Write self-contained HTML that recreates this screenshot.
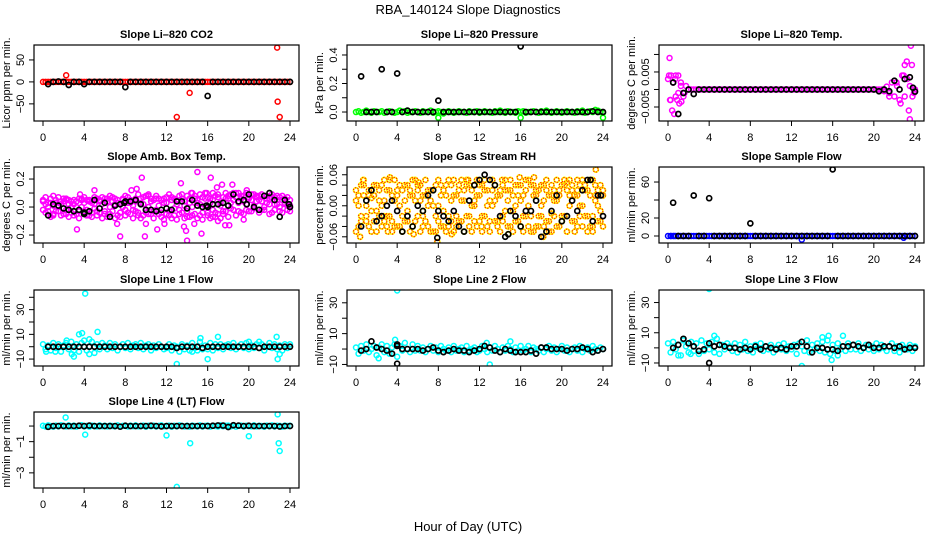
<!DOCTYPE html>
<html><head><meta charset="utf-8"><style>
html,body{margin:0;padding:0;background:#fff;}
svg{display:block;font-family:"Liberation Sans",sans-serif;}
</style></head><body>
<svg id="chart" width="936" height="540" viewBox="0 0 936 540" xmlns="http://www.w3.org/2000/svg">
<text x="468" y="14" text-anchor="middle" font-size="13">RBA_140124  Slope Diagnostics</text>
<text x="468" y="531" text-anchor="middle" font-size="13">Hour of Day (UTC)</text>
</svg>
<script>
// ---------- data ----------
const xTicks = [0,4,8,12,16,20,24];

const co2Col = [0,0,0,0,0,0,0,0,0,0,0,0, 0,0,0,0,0,0,0,0,0,0,0,0, 0,0,0,0,0,0,0,0,0,0,0,0, 0,0,0,0,0,0,0,0,0,0,0,0, 0,0,0,0,0,0,0,0,0,0,0,0, 0,0,0,0,0,0,0,0,0,0,0,0, 0,0,0,0,0,0,0,0,0,0,0,0, 0,0,0,0,0,0,0,0,0,0,0,0, 0];
const co2ColExtra = [[2.25,15],[13,-80],[14.25,-25],[22.75,78],[22.8,-45],[23,-80]];
const co2Blk = [-5,0,1,0,-7,0,0,-5, 0,0,0,0,0,0,0,-12, 0,0,0,0,0,0,0,0, 0,0,0,0,0,0,0,-32, 0,0,0,0,0,0,0,0, 0,0,0,0,0,0,0,0];
const co2BlkExtra = [];

const presCol = [0,0.005,-0.005,0,0.01,0,-0.005,0.005,0,0,0.005,-0.005, 0,0.005,0,-0.005,0,0.01,0,0.005,-0.005,0,0,0.005, 0,-0.005,0.005,0,0,0.01,-0.005,0,0.005,0,-0.01,0, 0.005,0,-0.005,0,0.005,0,0,-0.005,0.005,0,0,0.005, -0.005,0,0.005,0,0,-0.005,0.005,0,0.01,0,-0.005,0.005, 0,0,-0.005,0.005,0,0.005,-0.005,0,0,0.005,0,-0.005, 0.005,0,0.01,0,-0.005,0,0.005,0,-0.005,0,0.005,0, 0,-0.005,0.005,0,0.01,-0.005,0,0.005,0,0.015,0.01,0, -0.005];
const presColExtra = [[8,-0.04],[16,-0.04],[24,-0.04]];
const presBlk = [0.25,0,0,0,0.3,0,0,0.27, 0,0.01,0,0,0,0,0,0.08, 0,0,0,0,0,0,0,0, 0,0,0,0,0,0,0,0.46, 0,0,0,0,0,0,0,0, 0,0,0,0,0,0.005,0,0];
const presBlkExtra = [];

const tempCol = [0.003,-0.003,0.002,0.004,-0.001,0.002,-0.002,0.001,0.0, 0,0,0, 0,0,0,0,0,0,0,0,0,0,0,0, 0,0,0,0,0,0,0,0,0,0,0,0, 0,0,0,0,0,0,0,0,0,0,0,0, 0,0,0,0,0,0,0,0,0,0,0,0, 0,0,0,0,0,0,0,0,0,0,0,0, 0,0,0,0,0,0,0,0,0,0,0,0, -0.0005,0.0008,-0.001,0.002,-0.002,0.001,-0.003,0.004,-0.002,0.003,0.001,-0.002,0.0];
const tempColExtra = [[0.15,0.009],[0.4,-0.006],[0.6,-0.007],[0.3,0.004],[0.2,-0.003],[0.5,0.002],[0.75,-0.002],[1,0.004],[1.25,0.001],[0.1,0.004],[0.9,-0.003],[1.6,-0.001],[1.3,-0.0035],[1.1,-0.004],[0.7,0.003],[23.6,0.0125],[23.2,0.008],[23.5,-0.0085],[23.4,-0.006],[23.7,0.007],[23.0,0.007],[22.6,-0.004],[22.9,0.004],[21.5,-0.002],[22.2,0.002],[23.9,-0.001]];
const tempBlk = [0.002,-0.007,-0.001,0,-0.0013,0,0,0, 0,0,0,0,0,0,0,0, 0,0,0,0,0,0,0,0, 0,0,0,0,0,0,0,0, 0,0,0,0,0,0,0,0, -0.0005,0,-0.0005,0.0025,0,0.003,0.0035,-0.0006];
const tempBlkExtra = [[23.8,0.0005]];

const ambColA = [0.05,0.02,-0.03,0.06,-0.05,0.03,0.0,-0.06,0.04,-0.02,0.05,-0.04, 0.02,-0.05,0.06,0.0,-0.03,0.05,-0.06,0.03,-0.01,0.06,-0.04,0.02, -0.05,0.04,0.0,-0.03,0.06,-0.06,0.02,0.05,-0.02,0.07,-0.05,0.01, 0.06,-0.04,0.03,-0.06,0.08,0.0,-0.05,0.05,-0.02,0.06,-0.07,0.03, 0.07,-0.03,0.05,-0.06,0.02,0.08,-0.04,0.04,-0.07,0.06,0.0,-0.05, 0.05,-0.06,0.07,0.01,-0.04,0.06,-0.02,0.08,-0.05,0.03,0.07,-0.03, 0.06,0.09,-0.02,0.07,0.03,-0.04,0.08,0.02,0.06,-0.03,0.09,0.04, 0.05,-0.02,0.08,0.03,0.06,-0.04,0.07,0.02,-0.03,0.05,0.06,-0.02, 0.01];
const ambColB = [-0.02,0.07,0.03,-0.07,0.01,-0.03,0.07,0.02,-0.05,0.06,-0.07,0.04, -0.06,0.04,-0.08,0.05,0.07,-0.06,0.04,-0.07,0.07,-0.03,0.05,-0.08, 0.06,-0.07,0.08,0.04,-0.08,0.03,-0.07,0.0,0.08,-0.04,0.03,-0.08, -0.03,0.09,-0.08,0.07,-0.04,0.09,0.06,-0.08,0.08,-0.05,0.05,-0.09, -0.05,0.09,-0.08,0.06,-0.09,-0.02,0.09,-0.08,0.08,-0.07,0.1,0.06, -0.08,0.09,-0.09,0.1,0.07,-0.08,0.1,-0.07,0.09,-0.08,-0.03,0.1, -0.07,0.03,0.1,-0.06,0.1,0.08,-0.05,0.1,-0.03,0.09,0.01,0.08, -0.04,0.09,0.0,0.08,-0.05,0.09,0.02,0.08,0.07,-0.04,0.02,0.07, -0.03];
const ambColC = [0.04,-0.04,0.0,0.03,-0.06,0.05,-0.03,0.04,0.06,-0.05,0.02,0.0, 0.05,0.0,-0.03,0.06,0.03,-0.02,0.05,-0.04,0.02,-0.06,0.04,0.07, -0.03,0.06,-0.05,0.07,0.02,0.05,-0.04,0.06,-0.06,0.03,0.05,-0.02, 0.04,-0.06,0.06,0.02,-0.02,-0.05,0.04,-0.03,0.06,0.01,-0.04,0.06, 0.03,-0.06,0.07,-0.01,0.05,-0.05,0.06,0.01,-0.03,0.03,-0.06,0.08, 0.03,0.02,-0.04,0.06,-0.06,0.03,0.05,-0.04,0.07,0.01,-0.05,0.06, 0.08,-0.01,0.05,0.1,-0.03,0.06,0.04,-0.02,0.07,0.05,-0.01,0.07, 0.08,0.04,-0.02,0.06,0.02,0.07,-0.02,0.05,0.0,0.08,0.03,0.01, 0.05];
const ambColExtra = [[1.0,0.08],[2.3,0.05],[3.3,-0.16],[3.6,0.09],[5.0,0.12],[7.5,-0.21],[7.2,-0.12],[8.6,0.12],[9.1,0.13],[9.6,0.21],[10.2,0.08],[9.9,-0.21],[10.0,-0.12],[11.1,-0.16],[11.8,-0.12],[13.4,0.17],[13.7,-0.14],[14.4,0.1],[14.0,-0.24],[13.9,-0.17],[14.7,-0.12],[15.0,0.25],[15.4,-0.19],[15.9,0.1],[16.3,0.21],[16.5,-0.07],[16.9,0.14],[17.4,0.16],[17.7,-0.13],[18.1,-0.13],[18.4,0.16],[19.8,0.12],[19.5,-0.09],[17.0,-0.1]];
const ambBlk = [-0.06,0.02,0.01,-0.01,-0.02,-0.03,-0.02,-0.05, -0.03,0.05,-0.01,0.03,-0.07,0.01,0.02,0.04, 0.04,0.05,0.02,-0.02,-0.02,-0.03,-0.02,-0.01, -0.02,0.04,0.04,-0.01,0.05,0.01,0.0,0.0, 0.02,0.02,0.03,0.01,0.09,0.04,0.05,0.09, 0.0,-0.02,0.08,0.1,0.05,-0.07,0.05,0.0];
const ambBlkExtra = [[4.0,-0.04],[7.9,0.03],[15.9,0.01],[19.8,0.02],[23.9,0.02]];

const rhColA = [0.01,-0.04,0.04,0.02,-0.03,0.03,-0.01,0.02,-0.05,0.01,0.04,-0.03, 0.03,-0.02,0.02,0.05,-0.04,0.0,0.03,-0.03,0.04,-0.05,0.02,0.01, -0.02,0.04,-0.04,0.02,0.03,-0.05,0.0,0.04,-0.03,0.02,-0.01,0.04, 0.05,-0.03,0.02,-0.04,0.03,0.01,-0.05,0.04,-0.02,0.03,0.0,-0.04, 0.04,-0.02,0.05,-0.04,0.01,0.03,-0.03,0.02,-0.05,0.04,-0.01,0.03, -0.04,0.02,0.04,-0.03,0.01,-0.05,0.03,0.05,-0.02,0.02,-0.04,0.03, 0.0,0.04,-0.03,0.02,-0.05,0.03,0.01,-0.04,0.04,-0.02,0.03,0.05, -0.03,0.02,-0.04,0.04,0.0,-0.02,0.03,-0.04,0.05,0.02,-0.03,0.04, 0.02];
const rhColB = [-0.05,0.02,-0.02,0.04,0.0,-0.04,0.03,-0.03,0.04,-0.02,0.0,0.05, -0.04,0.03,-0.05,0.01,0.03,-0.04,-0.02,0.04,-0.03,0.03,-0.04,0.05, 0.03,-0.05,0.02,-0.03,0.0,0.03,-0.05,-0.02,0.05,-0.04,0.03,-0.05, -0.02,0.04,-0.05,0.02,-0.03,0.05,0.03,-0.02,0.04,-0.05,0.04,0.02, -0.03,0.04,-0.02,0.03,-0.05,0.0,0.04,-0.03,0.03,-0.02,0.05,-0.04, 0.03,-0.05,0.0,0.04,-0.04,0.02,-0.02,-0.04,0.04,-0.05,0.03,-0.02, 0.04,-0.04,0.05,-0.05,0.02,-0.02,0.05,0.02,-0.03,0.04,-0.05,0.0, 0.04,-0.05,0.03,-0.02,0.05,0.04,-0.05,0.02,-0.02,0.04,0.0,-0.03, -0.04];
const rhColC = [0.03,0.0,-0.03,0.05,-0.02,0.02,-0.05,0.04,-0.01,0.03,-0.04,0.01, -0.02,0.05,-0.03,-0.04,0.02,0.04,-0.05,0.01,-0.01,0.02,0.05,-0.03, 0.04,0.01,-0.02,0.05,-0.04,0.01,0.03,-0.05,0.0,0.04,-0.04,0.02, -0.04,0.01,0.05,-0.02,0.04,-0.03,0.01,0.05,-0.04,0.0,-0.03,0.05, 0.02,-0.05,0.03,0.0,-0.03,0.05,0.01,-0.04,0.02,-0.03,0.03,0.01, 0.05,-0.01,-0.03,0.02,0.04,-0.02,0.05,0.0,-0.05,0.04,0.02,-0.04, -0.02,0.01,0.03,-0.03,0.04,0.01,-0.04,0.03,-0.02,0.05,-0.05,0.02, 0.03,-0.03,0.05,0.0,-0.04,0.03,-0.02,0.05,-0.04,0.01,0.03,-0.01, 0.03];
const rhColExtra = [[0.4,-0.06],[0.7,0.05],[3.3,0.055],[3.1,-0.05],[5.6,-0.055],[7.9,-0.07],[6.1,0.045],[10.9,0.05],[12.2,-0.04],[14.2,0.05],[15.9,0.055],[14.8,-0.055],[18.2,-0.06],[23.3,0.07],[23.0,-0.05],[9.3,-0.055],[20.5,0.045],[17.3,0.055],[1.5,0.015],[6.5,-0.01],[11.5,0.01],[19.0,-0.015],[21.5,0.02],[2.7,-0.02]];
const rhBlk = [-0.04,0.01,0.03,-0.03,-0.02,0.0,0.01,-0.01, -0.05,-0.02,-0.04,0.0,-0.01,0.02,0.03,-0.01, -0.02,-0.03,-0.01,-0.04,-0.05,0.01,0.04,0.05, 0.06,0.05,0.04,-0.02,-0.06,-0.01,-0.02,-0.04, -0.01,-0.01,0.01,-0.06,-0.05,-0.01,0.02,-0.03, -0.02,0.01,-0.01,0.03,0.05,-0.03,0.02,-0.02];
const rhBlkExtra = [[7.9,-0.062],[14.8,-0.055],[23.8,0.02],[22.8,0.05]];

const sampCol = [0,0,0,0,0,0,0,0,0,0,0,0, 0,0,0,0,0,0,0,0,0,0,0,0, 0,0,0,0,0,0,0,0,0,0,0,0, 0,0,0,0,0,0,0,0,0,0,0,0, 0,0,0,0,0,0,0,0,0,0,0,0, 0,0,0,0,0,0,0,0,0,0,0,0, 0,0,0,0,0,0,0,0,0,0,0,0, 0,0,0,0,0,0,0,0,0,0,0,0, 0];
const sampColExtra = [[13,-4],[22.9,-2],[0.3,0],[0.6,0]];
const sampBlk = [37,0,0,0,45,0,0,42, 0,0,0,0,0,0,0,14, 0,0,0,0,0,0,0,0, 0,0,0,0,0,0,0,74, 0,0,0,0,0,0,0,0, 0,0,0,0,0,0,0,0];
const sampBlkExtra = [];

const l1Col = [2,-2,1,-3,3,-1,2,-4,1,3,-2,4, -3,2,-4,3,5,-3,-6,4,-5,2,-2,3, 1,-2,3,-1,2,-3,0,2,-1,3,-2,1, 2,-1,3,-2,1,2,-3,1,-1,2,0,-2, -1,2,-3,1,0,-4,2,-2,1,-3,3,-1, -3,4,-2,1,-2,3,-3,2,-1,2,-2,1, 2,-1,3,-2,0,2,-1,3,-2,1,-1,2, -1,2,-3,0,3,-1,2,-2,1,-3,2,-1, 2];
const l1ColExtra = [[4.1,43],[3.5,10],[3.8,11],[5.3,12],[4.5,6],[3,-8],[2.8,-6],[13,-14],[16,-10],[15.3,7],[17,8],[22.7,8],[22.8,-10],[23,-6],[20,4],[21,4],[1.2,-4],[0.3,-4],[2.3,5],[14.5,-4]];
const l1Blk = [0,0,0,0,0,0,0,0, 0,0,0,0,0,0,0,0, 0,0,0,0,0,0,0,0, 0,-1,0,0,0,0,-1,0, 0,0,0,0,0,0,0,0, 0,-1,0,0,0,0,0,0];
const l1BlkExtra = [];

const l2Col = [1,-3,2,-1,3,-2,0,2,-4,1,3,-2, 2,-3,1,3,-5,2,-1,4,0,-2,3,-1, 2,-1,1,-2,0,2,-1,1,-2,2,0,-1, 1,-2,2,-1,0,1,-2,2,-1,0,1,-2, -1,2,0,-2,1,-1,2,0,-2,1,-1,2, 0,-2,1,-1,2,-1,0,2,-2,1,0,-1, 1,-2,0,2,-1,1,-2,0,2,-1,1,-2, 0,1,-1,2,-2,0,1,-1,2,0,-1,1, 0];
const l2ColExtra = [[4,38],[13,-10],[3.8,6],[15,5],[2.2,-6],[12.7,4]];
const l2Blk = [-1,0,5,1,0,-1,-3,2, 0,0,0,0,-1,0,1,-1, -2,-1,0,-1,-1,-2,-1,0, 2,1,-1,-2,0,-1,-2,-2, -2,-1,-3,1,1,0,0,0, -1,0,0,1,0,-2,-1,0];
const l2BlkExtra = [[4,-9.5],[4,3]];

const l3Col = [3,-3,4,-1,2,-5,5,1,-3,4,-2,3, -4,5,-2,3,-1,4,-3,6,-4,2,-1,3, 1,-2,3,-3,2,-1,4,-2,1,-3,2,0, 3,-2,1,-1,2,-3,0,2,-1,3,-2,1, -1,2,-4,3,1,-2,5,-3,2,-1,3,-2, 4,-3,5,-4,2,-2,3,-1,1,-2,3,-1, 2,-1,3,-2,0,2,-1,1,-2,3,-1,2, 0,-2,1,3,-2,1,-3,2,0,-1,2,-2, 1];
const l3ColExtra = [[4,39],[13,-12],[15.9,-8],[16.5,-5],[4.5,8],[17,8],[15,7],[1,-5],[15.6,8],[2.2,-4]];
const l3Blk = [0,2,6,3,1,-2,-1,3, 1,2,1,0,0,-1,0,-1, 1,-1,1,0,-1,0,-1,1, 1,4,1,-3,0,0,-1,-1, -2,1,1,2,1,0,2,0, 0,1,1,0,1,-1,0,0];
const l3BlkExtra = [[4,-10]];

const l4Col = [0.02,-0.03,0.04,0.0,-0.04,0.03,-0.02,0.05,0.01,-0.03,0.04,-0.02, 0.03,-0.04,0.02,0.05,-0.02,0.01,-0.04,0.03,0.0,-0.03,0.04,-0.01, 0.02,-0.03,0.03,0.0,-0.02,0.04,-0.04,0.01,0.02,-0.03,0.03,-0.01, 0.04,-0.02,0.0,0.03,-0.04,0.02,-0.01,0.03,-0.03,0.01,0.04,-0.02, 0.0,0.03,-0.04,0.02,-0.02,0.04,0.01,-0.03,0.02,-0.04,0.03,0.0, -0.02,0.04,-0.03,0.01,0.03,-0.04,0.02,0.0,-0.03,0.04,-0.01,0.02, 0.03,-0.02,0.04,-0.04,0.01,0.03,-0.03,0.02,0.0,-0.02,0.04,-0.03, 0.02,0.0,-0.04,0.03,-0.01,0.04,-0.03,0.02,0.01,-0.04,0.03,0.0, 0.02];
const l4ColExtra = [[2.2,0.55],[4.1,-0.55],[12,-0.6],[14.3,-1.1],[13,-3.9],[20,-0.65],[22.8,0.75],[22.9,-1.1],[23,-1.6]];
const l4Blk = [-0.05,0,0,0,0,0,0.02,0, 0.03,0,0,0,0,0,-0.04,0.02, 0,0,0,0,0.02,0,-0.02,0, 0,0,0,0,0,0,0,0, 0.02,0.04,0.03,-0.06,0.05,0.03,0,0.02, 0,0,0,0,0,-0.03,0,0];
const l4BlkExtra = [];

// ---------- layout ----------
const colTimes = Array.from({length:97},(_,i)=>i*0.25);
const blkTimes = Array.from({length:48},(_,i)=>(i+1)*0.5);
const colLefts = [34,347,659];
const rowTops = [45,167,290,412];
const boxW = 265, boxH = 76;
const PR = 2.5;

const panels = [
 {name:'co2',title:'Slope Li\u2013820 CO2',ylab:'Licor ppm per min.',ymin:-89,ymax:84,ticks:[-50,0,50],labels:['\u221250','0','50'],color:'#ff0000',col:[co2Col],colX:co2ColExtra,blk:co2Blk,blkX:co2BlkExtra,r:0,c:0},
 {name:'pressure',title:'Slope Li\u2013820 Pressure',ylab:'kPa per min.',ymin:-0.063,ymax:0.47,ticks:[0,0.1,0.2,0.3,0.4],labels:['0.0','','0.2','','0.4'],color:'#00ff00',col:[presCol],colX:presColExtra,blk:presBlk,blkX:presBlkExtra,r:0,c:1},
 {name:'temp',title:'Slope Li\u2013820 Temp.',ylab:'degrees C per min.',ymin:-0.009,ymax:0.0127,ticks:[-0.005,0,0.005,0.01],labels:['\u22120.005','','0.005',''],color:'#ff00ff',col:[tempCol],colX:tempColExtra,blk:tempBlk,blkX:tempBlkExtra,r:0,c:2},
 {name:'amb-box-temp',title:'Slope Amb. Box Temp.',ylab:'degrees C per min.',ymin:-0.257,ymax:0.286,ticks:[-0.2,-0.1,0,0.1,0.2],labels:['\u22120.2','','0.0','','0.2'],color:'#ff00ff',col:[ambColA,ambColB,ambColC],colX:ambColExtra,blk:ambBlk,blkX:ambBlkExtra,r:1,c:0},
 {name:'gas-stream-rh',title:'Slope Gas Stream RH',ylab:'percent per min.',ymin:-0.072,ymax:0.075,ticks:[-0.06,-0.04,-0.02,0,0.02,0.04,0.06],labels:['\u22120.06','','','0.00','','','0.06'],color:'#ffff00',rh:true,col:[rhColA,rhColB,rhColC],colX:rhColExtra,blk:rhBlk,blkX:rhBlkExtra,r:1,c:1},
 {name:'sample-flow',title:'Slope Sample Flow',ylab:'ml/min per min.',ymin:-7.8,ymax:76.7,ticks:[0,20,40,60],labels:['0','20','','60'],color:'#0000ff',col:[sampCol],colX:sampColExtra,blk:sampBlk,blkX:sampBlkExtra,r:1,c:2},
 {name:'line1-flow',title:'Slope Line 1 Flow',ylab:'ml/min per min.',ymin:-15.6,ymax:45.9,ticks:[-10,0,10,20,30,40],labels:['\u221210','','10','','30',''],color:'#00ffff',col:[l1Col],colX:l1ColExtra,blk:l1Blk,blkX:l1BlkExtra,r:2,c:0},
 {name:'line2-flow',title:'Slope Line 2 Flow',ylab:'ml/min per min.',ymin:-11,ymax:38.3,ticks:[-10,0,10,20,30],labels:['\u221210','','10','','30'],color:'#00ffff',col:[l2Col],colX:l2ColExtra,blk:l2Blk,blkX:l2BlkExtra,r:2,c:1},
 {name:'line3-flow',title:'Slope Line 3 Flow',ylab:'ml/min per min.',ymin:-12,ymax:38.3,ticks:[-10,0,10,20,30],labels:['\u221210','','10','','30'],color:'#00ffff',col:[l3Col],colX:l3ColExtra,blk:l3Blk,blkX:l3BlkExtra,r:2,c:2},
 {name:'line4-flow',title:'Slope Line 4 (LT) Flow',ylab:'ml/min per min.',ymin:-3.97,ymax:0.9,ticks:[-3,-2,-1,0],labels:['\u22123','','\u22121',''],color:'#00ffff',col:[l4Col],colX:l4ColExtra,blk:l4Blk,blkX:l4BlkExtra,r:3,c:0}
];

const NS = 'http://www.w3.org/2000/svg';
const svg = document.getElementById('chart');
function mk(tag, attrs, parent){
  const e = document.createElementNS(NS, tag);
  for (const k in attrs) e.setAttribute(k, attrs[k]);
  (parent||svg).appendChild(e);
  return e;
}

panels.forEach(p=>{
  const L = colLefts[p.c], T = rowTops[p.r], R = L+boxW, B = T+boxH;
  const xs = t => L + 9 + t*(247/24);
  const ys = v => B - (v - p.ymin)/(p.ymax - p.ymin)*boxH;
  const g = mk('g', {});
  
  
  const clip = mk('clipPath', {id:'clip-'+p.name}, g);
  mk('rect', {x:L, y:T, width:boxW, height:boxH}, clip);

  const title = mk('text', {x:L+boxW/2, y:T-7, 'text-anchor':'middle', 'font-size':'11', 'font-weight':'bold'}, g);
  title.textContent = p.title;
  
  

  const pts = mk('g', {'clip-path':'url(#clip-'+p.name+')'}, g);
  
  
  const drawCol = (t,v)=>{
    if (p.rh) {
      const c = mk('circle', {cx:xs(t), cy:ys(v), r:PR, fill:'none', stroke:'#ffff00', 'stroke-width':1.8}, pts);
      
      
      const d = mk('circle', {cx:xs(t), cy:ys(v), r:PR, fill:'none', stroke:'#ff2000', 'stroke-width':1.2, 'stroke-dasharray':'1.3 1.3'}, pts);
      
      
    } else {
      const c = mk('circle', {cx:xs(t), cy:ys(v), r:PR, fill:'none', stroke:p.color, 'stroke-width':1.5}, pts);
      
      
    }
  };
  p.col.forEach(arr=>arr.forEach((v,i)=>drawCol(colTimes[i], v)));
  p.colX.forEach(([t,v])=>drawCol(t,v));
  const drawBlk = (t,v)=>{
    const c = mk('circle', {cx:xs(t), cy:ys(v), r:PR, fill:'none', stroke:'#000', 'stroke-width':1.7}, pts);
    
    
  };
  p.blk.forEach((v,i)=>drawBlk(blkTimes[i], v));
  p.blkX.forEach(([t,v])=>drawBlk(t,v));

  const box = mk('rect', {x:L, y:T, width:boxW, height:boxH, fill:'none', stroke:'#000', 'stroke-width':1.2}, g);
  
  

  const xa = mk('g', {}, g);
  
  
  mk('line', {x1:xs(0), x2:xs(24), y1:B, y2:B, stroke:'#000'}, xa);
  xTicks.forEach(t=>{
    mk('line', {x1:xs(t), x2:xs(t), y1:B, y2:B+5, stroke:'#000'}, xa);
    const tl = mk('text', {x:xs(t), y:B+20, 'text-anchor':'middle', 'font-size':'11'}, xa);
    tl.textContent = t;
    
    
  });
  const ya = mk('g', {}, g);
  
  
  const tv = p.ticks.filter(v=>v>=p.ymin && v<=p.ymax);
  mk('line', {x1:L, x2:L, y1:ys(tv[0]), y2:ys(tv[tv.length-1]), stroke:'#000'}, ya);
  p.ticks.forEach((v,i)=>{
    if (v<p.ymin || v>p.ymax) return;
    mk('line', {x1:L-5, x2:L, y1:ys(v), y2:ys(v), stroke:'#000'}, ya);
    if (p.labels[i]) {
      const yl = mk('text', {x:0, y:0, 'text-anchor':'middle', 'font-size':'11', transform:'translate('+(L-10)+','+ys(v)+') rotate(-90)'}, ya);
      yl.textContent = p.labels[i];
      
      
    }
  });
  const yt = mk('text', {x:0, y:0, 'text-anchor':'middle', 'font-size':'11', transform:'translate('+(L-24)+','+(T+boxH/2)+') rotate(-90)'}, g);
  yt.textContent = p.ylab;
  
  
});
</script>
</body></html>
